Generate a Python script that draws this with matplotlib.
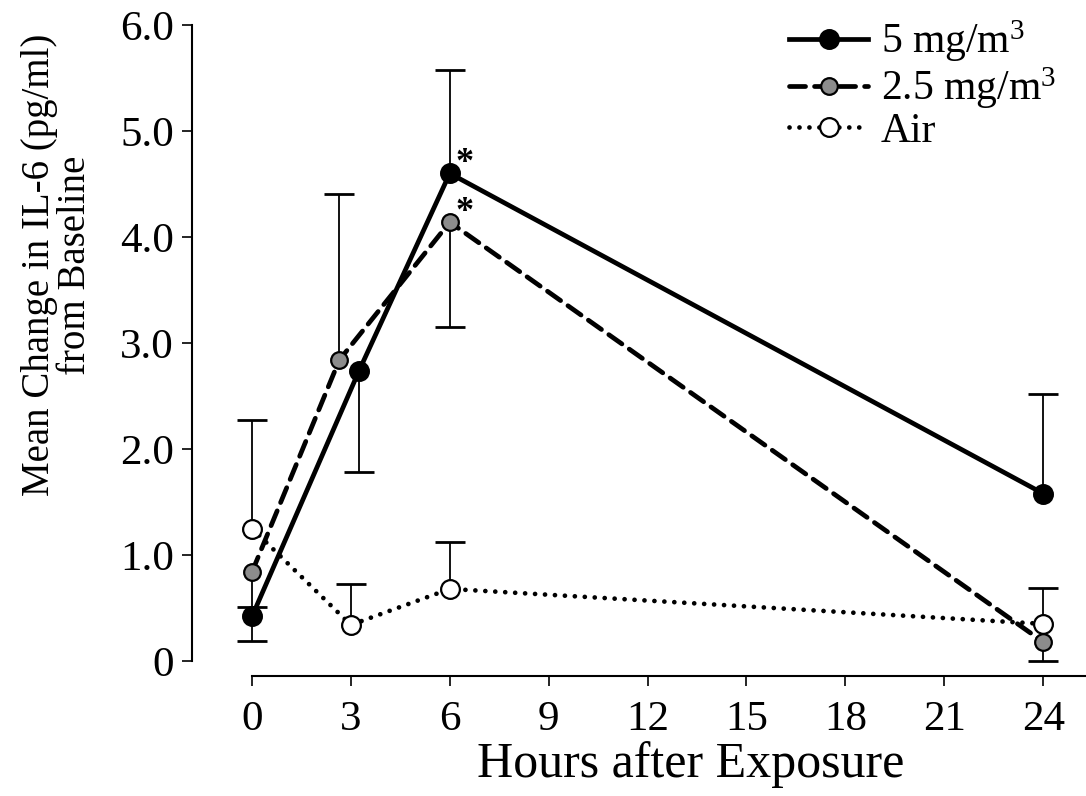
import matplotlib
matplotlib.use("Agg")
import matplotlib.pyplot as plt

plt.rcParams['font.family'] = ['Liberation Serif', 'DejaVu Serif']
plt.rcParams['mathtext.fontset'] = 'custom'
plt.rcParams['mathtext.rm'] = 'Liberation Serif'
plt.rcParams['mathtext.it'] = 'Liberation Serif'

# data (x slightly jittered like the original)
hours_5 = [0, 3.25, 6, 24]
mean_5 = [0.42, 2.74, 4.60, 1.58]
err_end_5 = [0.19, 1.78, 5.58, 2.52]

hours_25 = [0, 2.65, 6, 24]
mean_25 = [0.84, 2.84, 4.14, 0.18]
err_end_25 = [0.51, 4.41, 3.15, 0.0]

hours_air = [0, 3, 6, 24]
mean_air = [1.25, 0.34, 0.68, 0.35]
err_end_air = [2.27, 0.73, 1.12, 0.69]

x_ticks = [0, 3, 6, 9, 12, 15, 18, 21, 24]
y_ticks = [0, 1, 2, 3, 4, 5, 6]
y_ticklabels = ['0', '1.0', '2.0', '3.0', '4.0', '5.0', '6.0']

fig = plt.figure(figsize=(10.86, 7.96), dpi=100)
ax = fig.add_axes([192 / 1086, 120 / 796, 894 / 1086, 651 / 796])

series = [
    (hours_5, mean_5, err_end_5, '-', 'black', 'black', 13.5, '5 mg/m$^3$'),
    (hours_25, mean_25, err_end_25, (0, (3.4, 1.9)), '#8c8c8c', 'black', 12, '2.5 mg/m$^3$'),
    (hours_air, mean_air, err_end_air, (0, (0.01, 2.1)), 'white', 'black', 13.5, 'Air'),
]

for xs, ms, ends, ls, fc, ec, msz, lab in series:
    # one-sided error bars
    ax.vlines(xs, ms, ends, color='black', lw=1.3, zorder=1, clip_on=False)
    ax.plot(xs, ends, ls='none', marker='_', ms=21, mew=2.0, color='black',
            zorder=1, clip_on=False)
    ax.plot(xs, ms, ls=ls, lw=3.4, color='black', marker='o', ms=msz,
            mfc=fc, mec=ec, mew=1.6, dash_capstyle='round',
            label=lab, zorder=3, clip_on=False)

# significance marks
ax.annotate('*', (hours_5[2], mean_5[2]), xytext=(11, 7), textcoords='offset points',
            fontsize=26, fontweight='bold', ha='center', va='center')
ax.annotate('*', (hours_25[2], mean_25[2]), xytext=(11, 7), textcoords='offset points',
            fontsize=26, fontweight='bold', ha='center', va='center')

ax.set_xlim(-1.82, 25.3)
ax.set_ylim(-0.1415, 6.0)
ax.spines['top'].set_visible(False)
ax.spines['right'].set_visible(False)
ax.spines['left'].set_bounds(0, 6)
ax.spines['bottom'].set_bounds(0, 25.3)
for s in ('left', 'bottom'):
    ax.spines[s].set_linewidth(1.5)

ax.set_xticks(x_ticks)
ax.set_yticks(y_ticks)
ax.set_yticklabels(y_ticklabels)
ax.tick_params(axis='both', direction='out', length=7, width=1.2, labelsize=31)
ax.tick_params(axis='x', pad=11)
ax.tick_params(axis='y', pad=6)

ax.set_xlabel('Hours after Exposure', fontsize=36)
ax.xaxis.set_label_coords(0.558, -0.1)
ax.set_ylabel('Mean Change in IL-6 (pg/ml)\nfrom Baseline', fontsize=28,
              linespacing=0.95)
ax.yaxis.set_label_coords(-0.11, 0.631)

ax.legend(loc='upper right', bbox_to_anchor=(0.985, 1.036), frameon=False,
          fontsize=30, handlelength=1.9, handletextpad=0.3, labelspacing=0.03,
          borderaxespad=0)

fig.savefig('out.png', dpi=100)
